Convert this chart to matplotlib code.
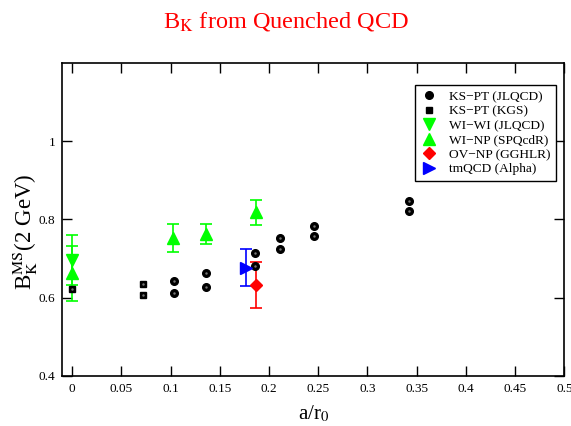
import numpy as np
import matplotlib
matplotlib.use("Agg")
import matplotlib.pyplot as plt

plt.rcParams["font.family"] = ["Liberation Serif", "DejaVu Serif"]
plt.rcParams["mathtext.fontset"] = "stix"

# KS-PT (KGS): staggered, perturbative
kgs_x = [0.0, 0.072, 0.072]
kgs_y = [0.621, 0.636, 0.607]

# KS-PT (JLQCD)
jlqcd_ks_x = [0.103, 0.103, 0.136, 0.136, 0.186, 0.186, 0.2115, 0.2115, 0.246, 0.246, 0.342, 0.342]
jlqcd_ks_y = [0.643, 0.611, 0.663, 0.626, 0.714, 0.680, 0.752, 0.724, 0.782, 0.757, 0.847, 0.821]

# WI-WI (JLQCD)
wiwi_x = [0.0]
wiwi_y = [0.696]
wiwi_err = [0.063]

# WI-NP (SPQcdR)
winp_x = [0.0, 0.102, 0.136, 0.187]
winp_y = [0.662, 0.752, 0.763, 0.818]
winp_err = [0.070, 0.036, 0.025, 0.032]

# OV-NP (GGHLR)
ovnp_x = [0.187]
ovnp_y = [0.632]
ovnp_err = [0.059]

# tmQCD (Alpha)
tm_x = [0.177]
tm_y = [0.677]
tm_err = [0.0475]

green = "#00ff00"

fig = plt.figure(figsize=(5.71, 4.26), dpi=100)
ax = fig.add_axes([0.1091, 0.1174, 0.8792, 0.7354])

ax.errorbar(wiwi_x, wiwi_y, yerr=wiwi_err, fmt="none", ecolor=green, elinewidth=1.2, capsize=4.5, capthick=1.2)
ax.errorbar(winp_x, winp_y, yerr=winp_err, fmt="none", ecolor=green, elinewidth=1.2, capsize=4.5, capthick=1.2)
ax.errorbar(ovnp_x, ovnp_y, yerr=ovnp_err, fmt="none", ecolor="red", elinewidth=1.2, capsize=4, capthick=1.2)
ax.errorbar(tm_x, tm_y, yerr=tm_err, fmt="none", ecolor="blue", elinewidth=1.2, capsize=4, capthick=1.2)

ax.plot(jlqcd_ks_x, jlqcd_ks_y, "o", color="black", ms=5.5, mec="black", label="KS\u2212PT (JLQCD)")
ax.plot(jlqcd_ks_x, jlqcd_ks_y, ".", color="#777777", ms=1.5)
ax.plot(kgs_x, kgs_y, "s", color="black", ms=5, label="KS\u2212PT (KGS)")
ax.plot(kgs_x, kgs_y, ".", color="#777777", ms=1.5)
ax.plot(wiwi_x, wiwi_y, "v", color=green, ms=8, label="WI\u2212WI (JLQCD)")
ax.plot(winp_x, winp_y, "^", color=green, ms=8, label="WI\u2212NP (SPQcdR)")
ax.plot(ovnp_x, ovnp_y, "D", color="red", ms=6.5, label="OV\u2212NP (GGHLR)")
ax.plot(tm_x, tm_y, ">", color="blue", ms=8, label="tmQCD (Alpha)")

ax.set_xlim(-0.01, 0.5)
ax.set_ylim(0.4, 1.2)
ax.set_xticks(np.arange(0, 0.501, 0.05))
ax.set_xticklabels(["0", "0.05", "0.1", "0.15", "0.2", "0.25", "0.3", "0.35", "0.4", "0.45", "0.5"])
ax.set_yticks([0.4, 0.6, 0.8, 1.0])
ax.set_yticklabels(["0.4", "0.6", "0.8", "1"])
ax.tick_params(direction="in", length=7, width=1, top=True, right=True, labelsize=9.5, pad=5)
for s in ax.spines.values():
    s.set_linewidth(1.2)

ax.set_xlabel(r"a/r$_0$", fontsize=15, labelpad=6)
ax.set_ylabel(r"B$_{\rm K}^{\rm MS}$(2 GeV)", fontsize=16.5)
ax.yaxis.set_label_coords(-0.044, 0.46)

fig.text(0.5, 0.935, r"B$_{\rm K}$ from Quenched QCD", color="red", fontsize=17.5, ha="center", va="baseline")

leg = ax.legend(loc="upper right", bbox_to_anchor=(0.984, 0.93), borderaxespad=0,
                fontsize=9.6, fancybox=False, framealpha=1, edgecolor="black",
                handletextpad=0.9, labelspacing=0.16, handlelength=1.2, borderpad=0.45)
leg.get_frame().set_linewidth(1.0)

fig.savefig("out.png", dpi=100)
